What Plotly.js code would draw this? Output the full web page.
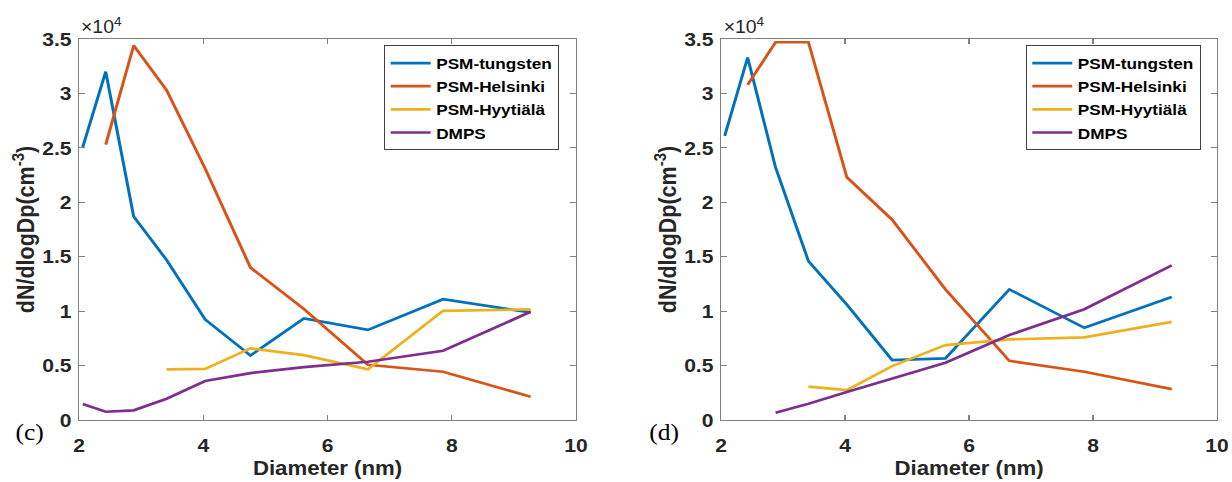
<!DOCTYPE html>
<html>
<head>
<meta charset="utf-8">
<script src="https://cdn.plot.ly/plotly-3.0.1.min.js"></script>
<style>
  html, body { margin: 0; padding: 0; background: #ffffff; overflow: hidden; }
  #wrap { width: 1232px; height: 482px; overflow: hidden; }
  /* figure is laid out on a 1110px canvas and widened to the page */
  #chart { width: 1110px; height: 482px; transform: scaleX(1.10991); transform-origin: 0 0; }
</style>
</head>
<body>
<div id="wrap"><div id="chart"></div></div>
<script>
// particle diameter bin centres (nm)
const diameter = [2.06, 2.43, 2.88, 3.41, 4.03, 4.76, 5.62, 6.65, 7.86, 9.27];

// panel (c): dN/dlogDp (cm^-3)
const tungstenC  = [25070, 32000, 18700, 14700, 9240, 5930, 9330, 8280, 11100, 9880];
const helsinkiC  = [null, 25300, 34400, 30300, 23100, 14000, 10200, 5070, 4430, 2140];
const hyytialaC  = [null, null, null, 4650, 4700, 6580, 5960, 4650, 10030, 10160];
const dmpsC      = [1470, 760, 890, 1960, 3580, 4310, 4860, 5350, 6360, 9940];

// panel (d): dN/dlogDp (cm^-3)
const tungstenD  = [26100, 33300, 23200, 14600, 10600, 5500, 5660, 12000, 8470, 11300];
const helsinkiD  = [null, 30800, 34700, 34700, 22300, 18400, 12000, 5440, 4430, 2840];
const hyytialaD  = [null, null, null, 3060, 2750, 4950, 6880, 7400, 7590, 9020];
const dmpsD      = [null, null, 670, 1500, 2570, 3830, 5260, 7800, 10180, 14200];

const seriesNames = ['PSM-tungsten', 'PSM-Helsinki', 'PSM-Hyytiälä', 'DMPS'];
const seriesColors = ['#0072BD', '#D95319', '#EDB120', '#7E2F8E'];

const yTickVals = [0, 5000, 10000, 15000, 20000, 25000, 30000, 35000];
const yTickText = ['0', '0.5', '1', '1.5', '2', '2.5', '3', '3.5'];
const xTickVals = [2, 4, 6, 8, 10];

const panelLabels = ['(c)', '(d)'];

const FONT = 'Liberation Sans, Arial, Helvetica, sans-serif';
const INK = '#262626';
const AXIS = '#808080';

function makeTraces(seriesList, xa, ya, legendId) {
  return seriesList.map((vals, i) => ({
    type: 'scatter',
    mode: 'lines',
    x: diameter,
    y: vals,
    name: seriesNames[i],
    xaxis: xa,
    yaxis: ya,
    legend: legendId,
    line: { color: seriesColors[i], width: 2.7 },
    connectgaps: false,
    hoverinfo: 'x+y+name'
  }));
}

const data = [
  ...makeTraces([tungstenC, helsinkiC, hyytialaC, dmpsC], 'x', 'y', 'legend'),
  ...makeTraces([tungstenD, helsinkiD, hyytialaD, dmpsD], 'x2', 'y2', 'legend2')
];

function xAxis(domain, anchor) {
  return {
    domain: domain,
    anchor: anchor,
    range: [2, 10],
    tickvals: xTickVals,
    ticks: 'inside',
    ticklen: 5,
    tickwidth: 1,
    tickcolor: AXIS,
    showline: true,
    linecolor: AXIS,
    linewidth: 1,
    mirror: 'ticks',
    showgrid: false,
    zeroline: false,
    ticklabelstandoff: 8,
    tickfont: { family: FONT, size: 19, color: INK, weight: 'bold' },
    title: { text: 'Diameter (nm)', standoff: 6,
             font: { family: FONT, size: 20, color: INK, weight: 'bold' } }
  };
}

function yAxis(anchor) {
  return {
    anchor: anchor,
    domain: [0, 1],
    range: [0, 35000],
    tickvals: yTickVals,
    ticktext: yTickText,
    ticks: 'inside',
    ticklen: 5,
    tickwidth: 1,
    tickcolor: AXIS,
    showline: true,
    linecolor: AXIS,
    linewidth: 1,
    mirror: 'ticks',
    showgrid: false,
    zeroline: false,
    ticklabelstandoff: 2,
    tickfont: { family: FONT, size: 19, color: INK, weight: 'bold' },
    title: { text: 'dN/dlogDp(cm<sup>-3</sup>)', standoff: 0,
             font: { family: FONT, size: 21.5, color: INK, weight: 'bold' } }
  };
}

const legendStyle = (x) => ({
  x: x, y: 0.983,
  xanchor: 'left', yanchor: 'top',
  bgcolor: '#ffffff',
  bordercolor: '#404040',
  borderwidth: 1,
  tracegroupgap: 0,
  itemwidth: 36,
  font: { family: FONT, size: 15.5, color: '#000000', weight: 'bold' }
});

const leftDomain = [0.06413, 0.46754];
const rightDomain = [0.58523, 0.98784];

const layout = {
  width: 1110,
  height: 482,
  margin: { l: 0, r: 0, t: 38.5, b: 62 },
  paper_bgcolor: '#ffffff',
  plot_bgcolor: '#ffffff',
  showlegend: true,
  xaxis: xAxis(leftDomain, 'y'),
  yaxis: yAxis('x'),
  xaxis2: xAxis(rightDomain, 'y2'),
  yaxis2: yAxis('x2'),
  legend: legendStyle(0.3117),
  legend2: legendStyle(0.8325),
  annotations: [
    { xref: 'paper', yref: 'paper', x: leftDomain[0], y: 1, xanchor: 'left', yanchor: 'bottom',
      text: '×10<sup>4</sup>', showarrow: false,
      font: { family: FONT, size: 17.5, color: INK } },
    { xref: 'paper', yref: 'paper', x: rightDomain[0], y: 1, xanchor: 'left', yanchor: 'bottom',
      text: '×10<sup>4</sup>', showarrow: false,
      font: { family: FONT, size: 17.5, color: INK } },
    { xref: 'paper', yref: 'paper', x: 0.024, y: -0.0315, xanchor: 'center', yanchor: 'middle',
      text: panelLabels[0], showarrow: false,
      font: { family: 'Liberation Serif, Times New Roman, serif', size: 23, color: '#000000' } },
    { xref: 'paper', yref: 'paper', x: 0.5389, y: -0.0315, xanchor: 'center', yanchor: 'middle',
      text: panelLabels[1], showarrow: false,
      font: { family: 'Liberation Serif, Times New Roman, serif', size: 23, color: '#000000' } }
  ]
};

Plotly.newPlot('chart', data, layout, { displayModeBar: false, staticPlot: true });
</script>
</body>
</html>
